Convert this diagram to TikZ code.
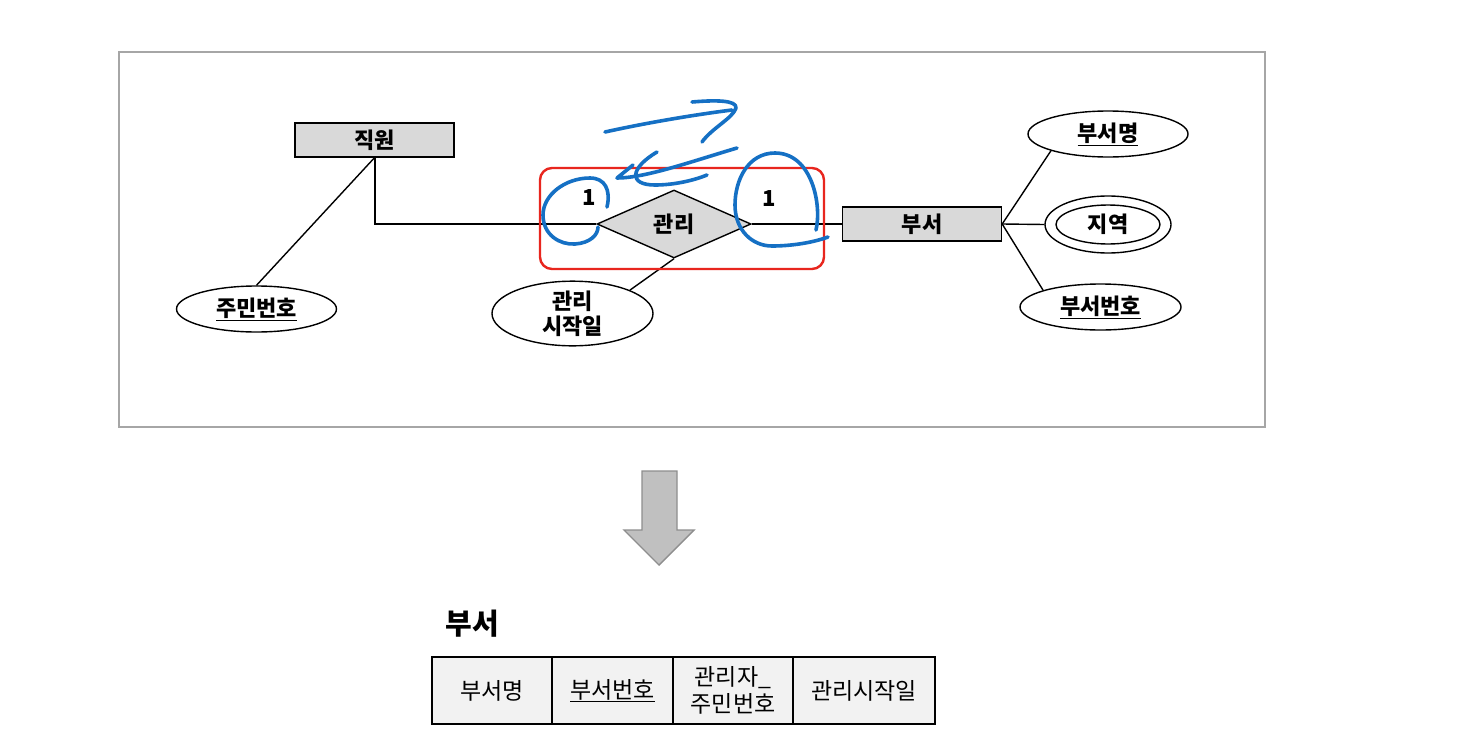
\documentclass[tikz,border=0pt]{standalone}
\usepackage{fontspec}
\setmainfont{Noto Sans CJK KR}
\usetikzlibrary{shapes.geometric}
\definecolor{entfill}{HTML}{D9D9D9}
\definecolor{framegray}{HTML}{A6A6A6}
\definecolor{scribblue}{HTML}{1570C4}
\definecolor{arrfill}{HTML}{C0C0C0}
\definecolor{arrdraw}{HTML}{8E8E8E}
\definecolor{cellfill}{HTML}{F2F2F2}
\definecolor{redbox}{HTML}{E8261E}
\tikzset{
  lbl/.style={font=\bfseries\fontsize{22}{25}\selectfont},
  entity/.style={lbl, draw, line width=1.4pt, fill=entfill, minimum width=159pt, minimum height=34pt, inner sep=0pt},
  attr/.style={lbl, draw, line width=1.4pt, ellipse, fill=white, minimum width=160pt, minimum height=46pt, inner sep=0pt},
  rel/.style={lbl, draw, line width=1.4pt, diamond, fill=entfill, minimum width=154pt, minimum height=68pt, inner sep=0pt},
  conn/.style={line width=1.4pt},
  scrib/.style={draw=scribblue, line width=3.6pt, line cap=round, line join=round},
  cell/.style={font=\fontsize{23}{27}\selectfont, draw, line width=1.8pt, fill=cellfill, minimum height=67pt, inner sep=0pt, align=center},
}
\begin{document}
\begin{tikzpicture}[x=1pt,y=-1pt]
\useasboundingbox (0,0) rectangle (1473,755);
\fill[white] (0,0) rectangle (1473,755);
% frame
\draw[framegray, line width=1.4pt] (119,52) rectangle (1265,427);
% entities
\node[entity] (emp) at (374.5,140) {직원};
\node[entity] (dept) at (922,224) {부서};
\node[rel] (mgr) at (674,224) {관리};
% attributes
\node[attr] (ssn) at (256.5,309) {\underline{주민번호}};
\node[attr, minimum width=161pt, minimum height=47pt, align=center] (start) at (572.5,313.5) {관리\\시작일};
\node[attr] (dname) at (1108,134) {\underline{부서명}};
\node[attr, minimum width=126pt, minimum height=57pt] (loco) at (1108,224.5) {};
\node[attr, minimum width=104pt, minimum height=39pt] (loc) at (1108,224.5) {지역};
\node[attr, minimum width=161pt] (dno) at (1100.5,307) {\underline{부서번호}};
% connectors
\coordinate (empb) at (375,157);
\draw[conn] (empb) |- (mgr.west);
\draw[conn] (mgr.east) -- (dept.west);
\draw[conn] (emp.south) -- (ssn.north);
\draw[conn] (mgr.south) -- (start.north east);
\draw[conn] (dept.east) -- (dname.south west);
\draw[conn] (dept.east) -- (loco.west);
\draw[conn] (dept.east) -- (dno.north west);
% cardinalities
\node[lbl] (c1) at (589,198) {1};
\node[lbl] (c2) at (769,199) {1};
% red highlight
\draw[redbox, line width=2.4pt, rounded corners=12pt] (540,168) rectangle (824,269);
% blue scribbles
\draw[scrib] (605,132) .. controls (650,122) and (700,114) .. (732,110);
\draw[scrib] (692,102) .. controls (715,100) and (737,100) .. (736,108) .. controls (733,118) and (712,128) .. (702,142);
\draw[scrib] (633,165) -- (617,178) .. controls (645,178) and (690,162) .. (737,148);
\draw[scrib] (657,152) .. controls (630,168) and (628,185) .. (655,185) .. controls (675,185) and (695,180) .. (707,175);
\draw[scrib] (607,207) .. controls (611,190) and (605,178) .. (590,178) .. controls (565,178) and (543,195) .. (543,215) .. controls (543,235) and (560,245) .. (575,244) .. controls (590,243) and (598,235) .. (598,227);
\draw[scrib] (816,230) .. controls (822,205) and (812,153) .. (775,153) .. controls (748,153) and (735,180) .. (735,205) .. controls (735,230) and (752,246) .. (772,246) .. controls (790,246) and (812,243) .. (828,237);
% arrow
\draw[arrdraw, fill=arrfill, line width=1.4pt] (642,471) -- (677,471) -- (677,530) -- (694,530) -- (659,565) -- (624,530) -- (642,530) -- cycle;
% relation table
\node[font=\bfseries\fontsize{29}{32}\selectfont] (ttl) at (472,624) {부서};
\node[cell, minimum width=120pt] (t1) at (492,690.5) {부서명};
\node[cell, minimum width=121pt] (t2) at (612.5,690.5) {\underline{부서번호}};
\node[cell, minimum width=120pt] (t3) at (733,690.5) {관리자\_\\주민번호};
\node[cell, minimum width=142pt] (t4) at (864,690.5) {관리시작일};
\end{tikzpicture}
\end{document}
